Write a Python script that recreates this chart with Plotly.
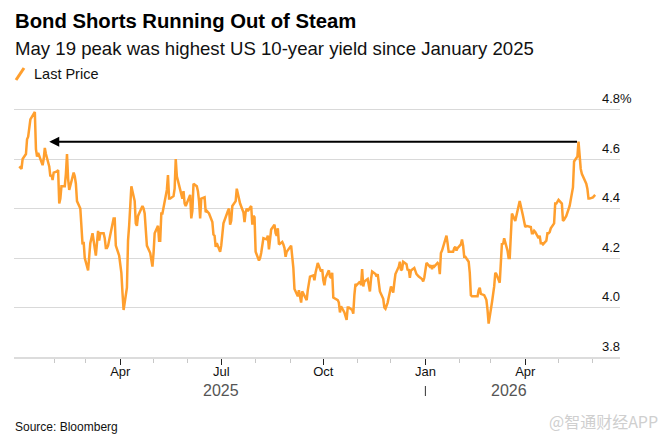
import plotly.graph_objects as go

# ---------------- data ----------------
days_2025 = ["2024-12-31",
 "01-02","01-03","01-06","01-07","01-08","01-10","01-13","01-14","01-15","01-16","01-17","01-21","01-22","01-23","01-24","01-27","01-28","01-29","01-30","01-31",
 "02-03","02-04","02-05","02-06","02-07","02-10","02-11","02-12","02-13","02-14","02-18","02-19","02-20","02-21","02-24","02-25","02-26","02-27","02-28",
 "03-03","03-04","03-05","03-06","03-07","03-10","03-11","03-12","03-13","03-14","03-17","03-18","03-19","03-20","03-21","03-24","03-25","03-26","03-27","03-28","03-31",
 "04-01","04-02","04-03","04-04","04-07","04-08","04-09","04-10","04-11","04-14","04-15","04-16","04-17","04-21","04-22","04-23","04-24","04-25","04-28","04-29","04-30",
 "05-01","05-02","05-05","05-06","05-07","05-08","05-09","05-12","05-13","05-14","05-15","05-16","05-19","05-20","05-21","05-22","05-23","05-27","05-28","05-29","05-30",
 "06-02","06-03","06-04","06-05","06-06","06-09","06-10","06-11","06-12","06-13","06-16","06-17","06-18","06-20","06-23","06-24","06-25","06-26","06-27","06-30",
 "07-01","07-02","07-03","07-07","07-08","07-09","07-10","07-11","07-14","07-15","07-16","07-17","07-18","07-21","07-22","07-23","07-24","07-25","07-28","07-29","07-30","07-31",
 "08-01","08-04","08-05","08-06","08-07","08-08","08-11","08-12","08-13","08-14","08-15","08-18","08-19","08-20","08-21","08-22","08-25","08-26","08-27","08-28","08-29",
 "09-02","09-03","09-04","09-05","09-08","09-09","09-10","09-11","09-12","09-15","09-16","09-17","09-18","09-19","09-22","09-23","09-24","09-25","09-26","09-29","09-30",
 "10-01","10-02","10-03","10-06","10-07","10-08","10-09","10-10","10-14","10-15","10-16","10-17","10-20","10-21","10-22","10-23","10-24","10-27","10-28","10-29","10-30","10-31",
 "11-03","11-04","11-05","11-06","11-07","11-10","11-12","11-13","11-14","11-17","11-18","11-19","11-20","11-21","11-24","11-25","11-26","11-28",
 "12-01","12-02","12-03","12-04","12-05","12-08","12-09","12-10","12-11","12-12","12-15","12-16","12-17","12-18","12-19","12-22","12-23","12-24","12-26","12-29","12-30","12-31"]
yields_2025 = [4.57,
 4.56,4.60,4.62,4.68,4.69,4.76,4.78,4.79,4.64,4.61,4.625,4.575,4.60,4.645,4.62,4.57,4.53,4.535,4.515,4.545,
 4.55,4.555,4.42,4.44,4.49,4.49,4.54,4.62,4.52,4.475,4.545,4.53,4.50,4.43,4.40,4.30,4.255,4.265,4.20,
 4.15,4.22,4.26,4.28,4.30,4.21,4.28,4.31,4.27,4.30,4.30,4.28,4.24,4.24,4.25,4.31,4.33,4.36,4.36,4.25,4.21,
 4.17,4.14,4.06,3.99,4.08,4.27,4.33,4.40,4.49,4.43,4.34,4.33,4.37,4.41,4.40,4.38,4.32,4.25,4.22,4.19,4.165,
 4.22,4.30,4.33,4.27,4.27,4.38,4.38,4.45,4.475,4.535,4.44,4.44,4.45,4.48,4.60,4.53,4.51,4.44,4.47,4.42,4.41,
 4.45,4.455,4.36,4.39,4.50,4.49,4.47,4.43,4.36,4.44,4.445,4.385,4.39,4.38,4.345,4.295,4.29,4.245,4.26,4.225,
 4.25,4.30,4.34,4.39,4.40,4.335,4.35,4.41,4.43,4.48,4.455,4.445,4.42,4.385,4.345,4.385,4.40,4.39,4.41,4.335,4.37,4.365,
 4.225,4.19,4.20,4.22,4.245,4.28,4.275,4.29,4.235,4.29,4.315,4.335,4.30,4.29,4.32,4.255,4.265,4.255,4.24,4.205,4.225,
 4.25,4.21,4.16,4.075,4.045,4.07,4.035,4.02,4.065,4.04,4.03,4.07,4.10,4.125,4.13,4.11,4.14,4.17,4.18,4.145,4.155,
 4.11,4.09,4.12,4.15,4.125,4.12,4.14,4.04,4.03,4.02,3.98,4.005,3.98,3.965,3.95,4.00,4.00,3.99,3.975,4.05,4.095,4.09,
 4.105,4.09,4.155,4.085,4.105,4.115,4.065,4.115,4.145,4.135,4.125,4.135,4.10,4.065,4.035,4.00,3.995,4.02,
 4.085,4.075,4.06,4.10,4.135,4.165,4.185,4.15,4.155,4.185,4.175,4.15,4.155,4.12,4.15,4.16,4.145,4.135,4.125,4.115,4.105,4.12]

days_2026 = [
 "01-02","01-05","01-06","01-07","01-08","01-09","01-12","01-13","01-14","01-15","01-16","01-20","01-21","01-22","01-23","01-26","01-27","01-28","01-29","01-30",
 "02-02","02-03","02-04","02-05","02-06","02-09","02-10","02-11","02-12","02-13","02-17","02-18","02-19","02-20","02-23","02-24","02-25","02-26","02-27",
 "03-02","03-03","03-04","03-05","03-06","03-09","03-10","03-11","03-12","03-13","03-16","03-17","03-18","03-19","03-20","03-23","03-24","03-25","03-26","03-27","03-30","03-31",
 "04-01","04-02","04-06","04-07","04-08","04-09","04-10","04-13","04-14","04-15","04-16","04-17","04-20","04-21","04-22","04-23","04-24","04-27","04-28","04-29","04-30",
 "05-01","05-04","05-05","05-06","05-07","05-08","05-11","05-12","05-13","05-14","05-15","05-18","05-19","05-20","05-21","05-22","05-26","05-27","05-28","05-29",
 "06-01","06-02","06-03"]
yields_2026 = [
 4.18,4.165,4.17,4.155,4.17,4.165,4.18,4.175,4.135,4.22,4.23,4.29,4.26,4.225,4.225,4.225,4.24,4.245,4.23,4.24,
 4.255,4.275,4.25,4.205,4.205,4.185,4.14,4.05,4.045,4.045,4.045,4.07,4.08,4.055,4.05,4.04,4.03,3.99,3.935,
 4.02,4.045,4.085,4.14,4.135,4.10,4.20,4.26,4.255,4.28,4.23,4.20,4.20,4.275,4.38,4.35,4.37,4.395,4.41,4.43,4.37,4.34,
 4.325,4.33,4.325,4.30,4.30,4.31,4.305,4.28,4.29,4.26,4.26,4.255,4.27,4.30,4.30,4.305,4.32,4.34,4.42,4.42,4.43,
 4.435,4.42,4.35,4.355,4.365,4.37,4.41,4.44,4.475,4.485,4.59,4.61,4.67,4.59,4.56,4.54,4.50,4.48,4.44,4.44,
 4.445,4.45,4.455]

y_tick_values = [3.8, 4.0, 4.2, 4.4, 4.6, 4.8]
y_tick_labels = ["3.8", "4.0", "4.2", "4.4", "4.6", "4.8%"]
x_major_ticks = ["2025-04-01", "2025-07-01", "2025-10-01", "2026-01-01", "2026-04-01"]
x_major_labels = ["Apr", "Jul", "Oct", "Jan", "Apr"]
x_minor_ticks = ["2025-02-01", "2025-03-01", "2025-05-01", "2025-06-01", "2025-08-01", "2025-09-01",
                 "2025-11-01", "2025-12-01", "2026-02-01", "2026-03-01", "2026-05-01", "2026-06-01"]
year_labels = ["2025", "2026"]
year_label_dates = ["2025-07-01", "2026-03-17"]
year_divider_date = "2026-01-01"
arrow_tip_date = "2025-01-27"

dates = [d if d.startswith("20") else "2025-" + d for d in days_2025] + ["2026-" + d for d in days_2026]
yields = yields_2025 + yields_2026

peak_i = len(yields_2025) + max(range(len(yields_2026)), key=lambda i: yields_2026[i])
peak_date, peak_val = dates[peak_i], yields[peak_i]

# ---------------- layout geometry ----------------
W, H = 661, 441
ML, MR, MT, MB = 14, 41, 95, 84
PW, PH = W - ML - MR, H - MT - MB
def px_x(px): return (px - ML) / PW
def px_y(py): return (H - MB - py) / PH

FONT = "Liberation Sans, Arial, Helvetica, sans-serif"
ORANGE = "#ff9f2e"

fig = go.Figure()
fig.add_trace(go.Scatter(x=dates, y=yields, mode="lines", name="Last Price",
                         line=dict(color=ORANGE, width=2.5), showlegend=False))

fig.update_layout(
    width=W, height=H,
    margin=dict(l=ML, r=MR, t=MT, b=MB, pad=0),
    paper_bgcolor="white", plot_bgcolor="white",
    font=dict(family=FONT, color="#111"),
    xaxis=dict(type="date", range=["2024-12-26 05:30", "2026-06-25 09:30"],
               tickvals=x_major_ticks, ticktext=x_major_labels,
               ticks="outside", ticklen=6, tickwidth=1, tickcolor="#222",
               showline=True, linecolor="#dcdcdc", linewidth=2,
               showgrid=False, zeroline=False,
               ticklabelstandoff=-5,
               tickfont=dict(size=13, color="#111"),
               minor=dict(tickvals=x_minor_ticks, ticks="outside", ticklen=4,
                          tickcolor="#c8c8c8", tickwidth=1, showgrid=False)),
    yaxis=dict(range=[3.8, 3.8 + 0.2 * PH / 49.5], side="right",
               tickvals=y_tick_values, ticktext=y_tick_labels,
               showgrid=True, gridcolor="#d9d9d9", gridwidth=1,
               zeroline=False, showline=False, ticks="",
               ticklabelposition="outside", ticklabelstandoff=-19, ticklabelshift=-11,
               tickfont=dict(size=13, color="#111")),
)

# arrow from the May 19 peak back to January 2025
fig.add_annotation(x=arrow_tip_date, y=peak_val, ax=peak_date, ay=peak_val,
                   xref="x", yref="y", axref="x", ayref="y", text="",
                   showarrow=True, arrowhead=2, arrowsize=1, arrowwidth=2,
                   arrowcolor="black", standoff=0, startstandoff=0)

# titles
fig.add_annotation(text="<b>Bond Shorts Running Out of Steam</b>", xref="paper", yref="paper",
                   x=px_x(13), y=px_y(21), xanchor="left", yanchor="middle", showarrow=False,
                   font=dict(size=20.3, color="#000", family=FONT))
fig.add_annotation(text="May 19 peak was highest US 10-year yield since January 2025", xref="paper", yref="paper",
                   x=px_x(13), y=px_y(48), xanchor="left", yanchor="middle", showarrow=False,
                   font=dict(size=18.6, color="#111", family=FONT))
# legend
fig.add_shape(type="line", xref="paper", yref="paper", x0=px_x(16), y0=px_y(80), x1=px_x(24), y1=px_y(68),
              line=dict(color=ORANGE, width=3))
fig.add_annotation(text="Last Price", xref="paper", yref="paper",
                   x=px_x(32), y=px_y(73.5), xanchor="left", yanchor="middle", showarrow=False,
                   font=dict(size=14.5, color="#111", family=FONT))
# year labels & divider
for lab, d in zip(year_labels, year_label_dates):
    fig.add_annotation(text=lab, xref="x", yref="paper", x=d, y=px_y(390),
                       xanchor="center", yanchor="middle", showarrow=False,
                       font=dict(size=16, color="#555", family=FONT))
fig.add_shape(type="line", xref="x", yref="paper", x0=year_divider_date, x1=year_divider_date,
              y0=px_y(386), y1=px_y(396), line=dict(color="#333", width=1))
# source & watermark
fig.add_annotation(text="Source: Bloomberg", xref="paper", yref="paper",
                   x=px_x(13), y=px_y(427), xanchor="left", yanchor="middle", showarrow=False,
                   font=dict(size=12, color="#111", family=FONT))
fig.add_annotation(text="@智通财经APP", xref="paper", yref="paper",
                   x=px_x(547), y=px_y(421), xanchor="left", yanchor="middle", showarrow=False,
                   font=dict(size=16, color="#cfcfcf", family="Noto Sans CJK SC, sans-serif"))

fig.write_html("out.html")
